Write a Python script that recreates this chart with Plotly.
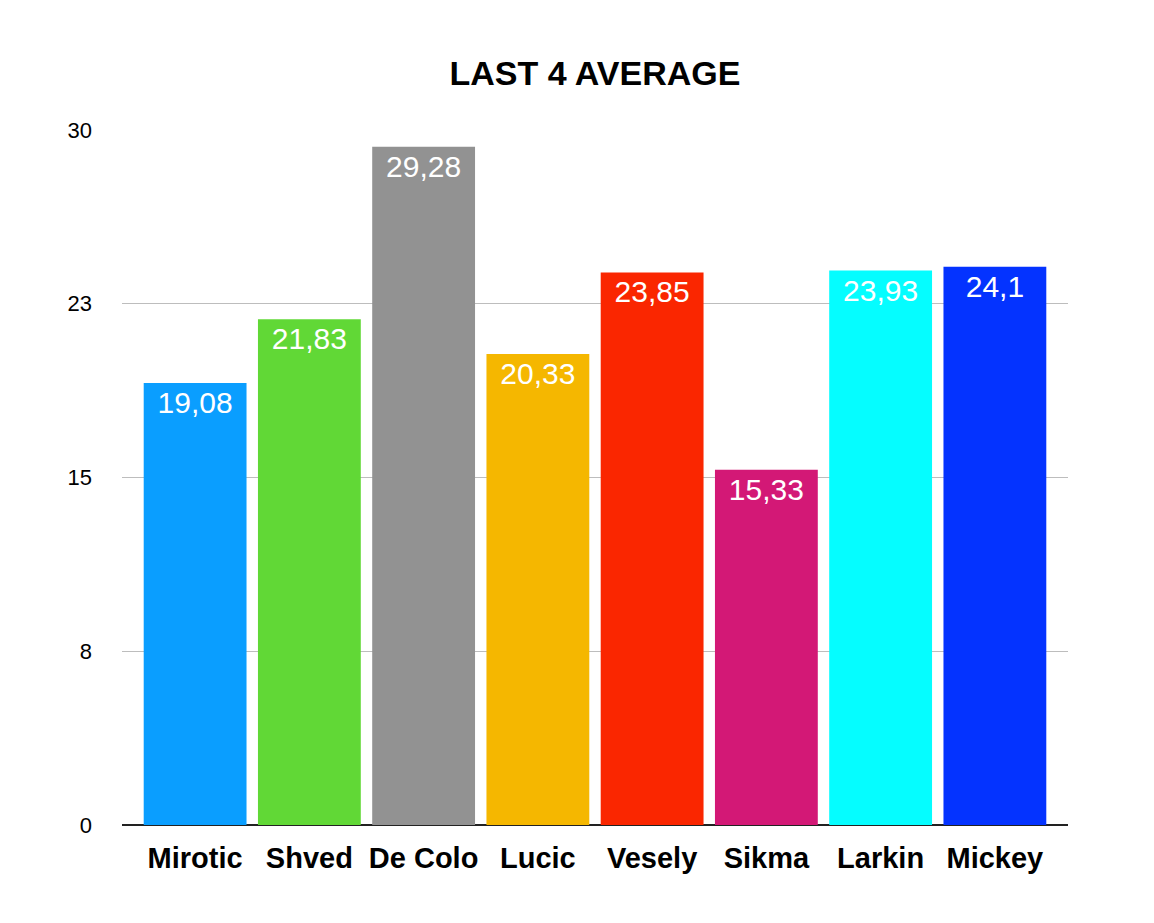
import plotly.graph_objects as go

# Player averages over the last 4 games
players = ["Mirotic", "Shved", "De Colo", "Lucic", "Vesely", "Sikma", "Larkin", "Mickey"]
averages = [19.08, 21.83, 29.28, 20.33, 23.85, 15.33, 23.93, 24.1]
bar_colors = ["#0A9EFF", "#61D836", "#929292", "#F5B700", "#FA2600", "#D31876", "#05FDFF", "#0433FF"]
tick_vals = [0, 7.5, 15, 22.5, 30]
tick_text = ["0", "8", "15", "23", "30"]

FONT = "Liberation Sans, Arial, Helvetica, sans-serif"

# comma as decimal separator, like the source chart
labels = [str(v).replace(".", ",") for v in averages]

fig = go.Figure()
fig.add_trace(go.Bar(
  x=players, y=averages,
  marker=dict(color=bar_colors, line=dict(width=0)),
  text=labels, textposition="inside", insidetextanchor="end",
  textangle=0,
  textfont=dict(family=FONT, size=30, color="white"),
  cliponaxis=False,
))

fig.update_layout(
  width=1154, height=923,
  margin=dict(l=114, r=94, t=122, b=106),
  paper_bgcolor="white", plot_bgcolor="white",
  showlegend=False,
  bargap=0.1,
  title=dict(text="<b>LAST 4 AVERAGE</b>", x=0.5, xref="paper", y=0.9296, yanchor="middle",
             font=dict(family=FONT, size=34, color="black")),
  xaxis=dict(range=[-0.64, 7.64], showgrid=False, showline=False, zeroline=False,
             ticks="", ticklabelstandoff=13,
             tickfont=dict(family=FONT, size=29, color="black"),
             tickprefix="<b>", ticksuffix="</b>"),
  yaxis=dict(range=[0, 30], tickvals=tick_vals, ticktext=tick_text,
             showgrid=True, gridcolor="#BDBDBD", gridwidth=1,
             zeroline=True, zerolinecolor="#222222", zerolinewidth=2,
             showline=False, ticks="", ticklabelstandoff=29,
             tickfont=dict(family=FONT, size=22, color="black")),
)

fig.write_html("out.html")
